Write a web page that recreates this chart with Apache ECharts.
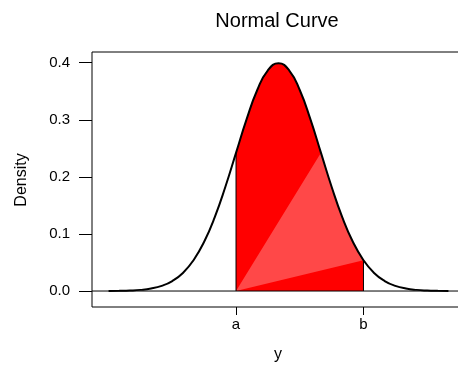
<!DOCTYPE html>
<html>
<head>
<meta charset="utf-8">
<script src="https://cdn.jsdelivr.net/npm/echarts@6/dist/echarts.min.js"></script>
<style>
html,body{margin:0;padding:0;background:#fff;}
#chart{width:458px;height:366px;}
</style>
</head>
<body>
<div id="chart"></div>
<script>
// Normal density curve (z in sd units)
var zValues = [-4, -3.75, -3.5, -3.25, -3, -2.75, -2.5, -2.25, -2, -1.75, -1.5, -1.25, -1,
  -0.75, -0.5, -0.25, 0, 0.25, 0.5, 0.75, 1, 1.25, 1.5, 1.75, 2, 2.25, 2.5, 2.75, 3, 3.25, 3.5, 3.75, 4];
var densities = [0.0001, 0.0004, 0.0009, 0.0020, 0.0044, 0.0091, 0.0175, 0.0317, 0.0540, 0.0863, 0.1295, 0.1826, 0.2420,
  0.3011, 0.3521, 0.3867, 0.3989, 0.3867, 0.3521, 0.3011, 0.2420, 0.1826, 0.1295, 0.0863, 0.0540, 0.0317, 0.0175, 0.0091, 0.0044, 0.0020, 0.0009, 0.0004, 0.0001];
var shadeFrom = -1, shadeTo = 2;           // a and b
var xTickValues = [-1, 2];
var xTickLabels = ['a', 'b'];
var yTickValues = [0, 0.1, 0.2, 0.3, 0.4];
var yTickLabels = ['0.0', '0.1', '0.2', '0.3', '0.4'];
var fanFrom = 1;                            // rendering artefact fan starts here
var xMin = -4.39, xMax = 4.39;

var curve = zValues.map(function (z, i) { return [z, densities[i]]; });
var shade = curve.filter(function (p) { return p[0] >= shadeFrom && p[0] <= shadeTo; });
var fan = [[shadeFrom, 0]].concat(curve.filter(function (p) { return p[0] >= fanFrom && p[0] <= shadeTo; }));
var dA = shade[0][1], dB = shade[shade.length - 1][1];
var baseline = [[xMin, 0], [xMax, 0]];

var FONT = '"Liberation Sans", Arial, sans-serif';
var chart = echarts.init(document.getElementById('chart'), null, {renderer: 'canvas'});
chart.setOption({
  animation: false,
  backgroundColor: '#fff',
  grid: {left: 92, top: 52, width: 373, height: 255, outerBoundsMode: 'none', containLabel: false,
    show: true, borderColor: '#000', borderWidth: 1, backgroundColor: 'transparent'},
  xAxis: {
    type: 'value', min: xMin, max: xMax,
    splitLine: {show: false},
    axisLine: {show: false, onZero: false},
    axisTick: {show: true, customValues: xTickValues, length: 8, lineStyle: {color: '#000'}},
    axisLabel: {customValues: xTickValues, margin: 10, color: '#000', fontFamily: FONT, fontSize: 15,
      formatter: function (v) { return xTickLabels[xTickValues.indexOf(v)]; }}
  },
  yAxis: {
    type: 'value', min: -0.028, max: 0.4187,
    splitLine: {show: false},
    axisLine: {show: false, onZero: false},
    axisTick: {show: true, customValues: yTickValues, length: 13, lineStyle: {color: '#000'}},
    axisLabel: {customValues: yTickValues, margin: 22, color: '#000', fontFamily: FONT, fontSize: 15,
      formatter: function (v) { var i = yTickValues.findIndex(function (t) { return Math.abs(t - v) < 1e-9; }); return yTickLabels[i]; }}
  },
  graphic: [
    {type: 'text', x: 277, y: 21, style: {text: 'Normal Curve', font: '20px ' + FONT, fill: '#000', textAlign: 'center', textVerticalAlign: 'middle'}},
    {type: 'text', x: 278, y: 355, style: {text: 'y', font: '16px ' + FONT, fill: '#000', textAlign: 'center', textVerticalAlign: 'middle'}},
    {type: 'text', x: 22, y: 180, rotation: Math.PI / 2, style: {text: 'Density', font: '16px ' + FONT, fill: '#000', textAlign: 'center', textVerticalAlign: 'middle'}}
  ],
  series: [
    {
      type: 'line', data: shade, smooth: true, symbol: 'none', z: 1,
      lineStyle: {width: 0, opacity: 0}, areaStyle: {color: '#ff0000', opacity: 1}
    },
    {
      type: 'custom', z: 2, data: fan, silent: true,
      renderItem: function (params, api) {
        if (params.dataIndex !== 0) return null;
        var pts = fan.map(function (p) { return api.coord(p); });
        return {type: 'polygon', shape: {points: pts}, style: {fill: '#ff4848'}};
      }
    },
    {
      type: 'line', data: [[shadeFrom, 0], [shadeFrom, dA]], symbol: 'none', z: 3,
      lineStyle: {color: '#000', width: 1}
    },
    {
      type: 'line', data: [[shadeTo, 0], [shadeTo, dB]], symbol: 'none', z: 3,
      lineStyle: {color: '#000', width: 1}
    },
    {
      type: 'line', data: baseline, symbol: 'none', z: 4,
      lineStyle: {color: '#000', width: 1}
    },
    {
      type: 'line', data: curve, smooth: true, symbol: 'none', z: 5,
      lineStyle: {color: '#000', width: 2}
    }
  ]
});
</script>
</body>
</html>
